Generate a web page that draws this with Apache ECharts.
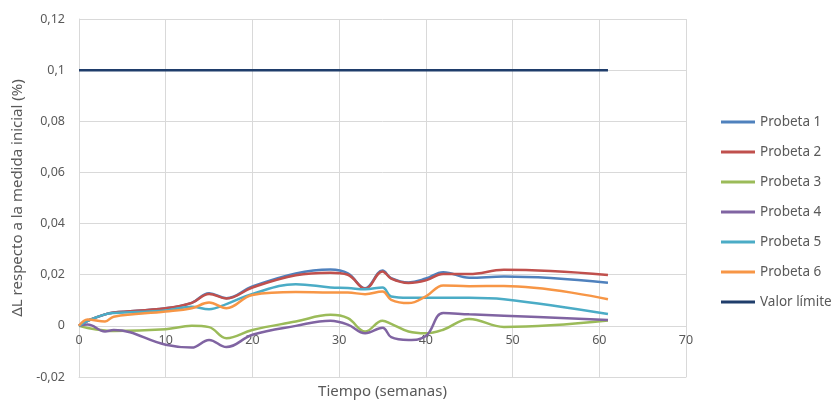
<!DOCTYPE html>
<html><head><meta charset="utf-8">
<script src="https://cdn.jsdelivr.net/npm/echarts@6/dist/echarts.min.js"></script>
<style>html,body{margin:0;padding:0;background:#fff}#c{width:835px;height:400px}</style>
</head><body><div id="c"></div>
<script>
const weeks = [0, 1, 3, 4, 10, 13, 15, 17, 20, 25, 29, 31, 33, 35, 36, 38, 40, 42, 45, 49, 61];
const probeta1 = [0, 0.002, 0.0045, 0.0052, 0.0069, 0.009, 0.0128, 0.0108, 0.0154, 0.0205, 0.0220, 0.0205, 0.0147, 0.0216, 0.0187, 0.0170, 0.0185, 0.0210, 0.0188, 0.0193, 0.0169];
const probeta2 = [0, 0.002, 0.0045, 0.0052, 0.0069, 0.009, 0.0125, 0.0107, 0.0150, 0.0198, 0.0208, 0.0200, 0.0145, 0.0213, 0.0185, 0.0168, 0.0178, 0.0203, 0.0203, 0.0219, 0.0199];
const probeta3 = [0, -0.0008, -0.0018, -0.002, -0.0013, 0, -0.0005, -0.0048, -0.0016, 0.0017, 0.0043, 0.003, -0.0022, 0.002, 0.0008, -0.0022, -0.0029, -0.0015, 0.0027, -0.0004, 0.0021];
const probeta4 = [0, 0.0005, -0.0022, -0.0016, -0.0074, -0.0085, -0.0055, -0.0083, -0.0035, 0, 0.002, 0.0005, -0.0029, -0.0007, -0.0044, -0.0055, -0.004, 0.005, 0.0045, 0.004, 0.0023];
const probeta5 = [0, 0.002, 0.0045, 0.0050, 0.0060, 0.0075, 0.0065, 0.0085, 0.0125, 0.0163, 0.0150, 0.0148, 0.0143, 0.0150, 0.0115, 0.0110, 0.0110, 0.0110, 0.0110, 0.0104, 0.0046];
const probeta6 = [0, 0.0025, 0.0017, 0.0036, 0.0056, 0.0069, 0.0091, 0.0069, 0.0121, 0.0132, 0.013, 0.013, 0.0124, 0.0134, 0.0102, 0.0089, 0.0115, 0.0158, 0.0155, 0.0156, 0.0104];
const limiteWeeks = [0, 61];
const limiteValues = [0.1, 0.1];
const seriesNames = ['Probeta 1', 'Probeta 2', 'Probeta 3', 'Probeta 4', 'Probeta 5', 'Probeta 6', 'Valor límite'];
const colors = ['#4F81BD', '#C0504D', '#9BBB59', '#8064A2', '#4BACC6', '#F79646', '#1F3D6B'];

const pair = (xs, ys) => xs.map((x, i) => [x, ys[i]]);
const allData = [probeta1, probeta2, probeta3, probeta4, probeta5, probeta6].map(v => pair(weeks, v));
allData.push(pair(limiteWeeks, limiteValues));

const font = 'Noto Sans';
const txt = '#595959';
const chart = echarts.init(document.getElementById('c'));
chart.setOption({
  animation: false,
  grid: {left: 79, right: 149, top: 19, bottom: 23, containLabel: false, outerBoundsMode: 'none'},
  legend: {
    orient: 'vertical', left: 716, top: 108, itemWidth: 34, itemHeight: 3, itemGap: 12,
    icon: 'rect',
    textStyle: {color: txt, fontSize: 13.5, fontFamily: font, lineHeight: 18},
    data: seriesNames
  },
  xAxis: {
    type: 'value', min: 0, max: 70, interval: 10,
    name: 'Tiempo (semanas)', nameLocation: 'middle', nameGap: 7,
    nameTextStyle: {color: txt, fontSize: 15, fontFamily: font},
    axisLine: {onZero: false, lineStyle: {color: '#d9d9d9'}},
    axisTick: {show: false},
    axisLabel: {color: txt, fontSize: 12.5, fontFamily: font, margin: -43},
    splitLine: {show: true, lineStyle: {color: '#d9d9d9'}}
  },
  yAxis: {
    type: 'value', min: -0.02, max: 0.12, interval: 0.02,
    name: 'ΔL respecto a la medida inicial (%)', nameLocation: 'middle', nameGap: 50,
    nameTextStyle: {color: txt, fontSize: 15, fontFamily: font},
    axisLine: {show: true, lineStyle: {color: '#d9d9d9'}},
    axisTick: {show: false},
    axisLabel: {color: txt, fontSize: 12.5, fontFamily: font, margin: 14,
      formatter: v => String(+v.toFixed(2)).replace('.', ',')},
    splitLine: {show: true, lineStyle: {color: '#d9d9d9'}}
  },
  series: seriesNames.map((n, i) => ({
    name: n, type: 'line', data: allData[i], smooth: i < 6 ? 0.4 : false,
    symbol: 'none', color: colors[i],
    lineStyle: {width: 2.5, color: colors[i]},
    emphasis: {disabled: true}, z: i === 6 ? 1 : 2
  }))
});
</script></body></html>
